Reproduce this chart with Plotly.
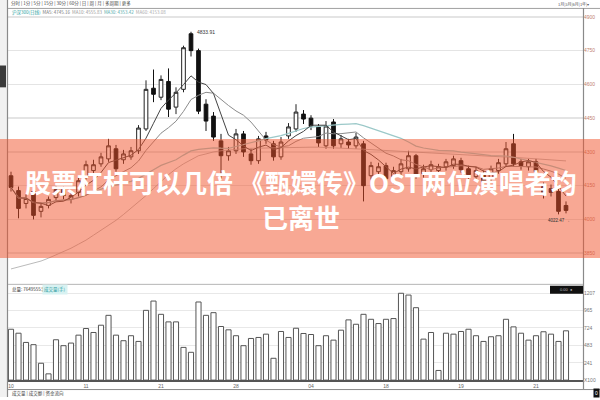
import plotly.graph_objects as go
import pandas as pd

# ---------------- data ----------------
opens = [4194, 4128, 4071, 4124, 4036, 4062, 4097, 4133, 4089, 4120,
         4190, 4217, 4247, 4269, 4314, 4265, 4278, 4305, 4402, 4583,
         4543, 4613, 4499, 4578, 4825, 4750, 4512, 4459, 4349, 4283,
         4305, 4380, 4291, 4261, 4371, 4336, 4278, 4371, 4402, 4468,
         4450, 4411, 4327, 4433, 4336, 4344, 4327, 4336, 4194, 4212,
         4239, 4190, 4212, 4225, 4283, 4203, 4221, 4217, 4234, 4239,
         4261, 4225, 4190, 4203, 4181, 4217, 4247, 4336, 4256, 4234,
         4256, 4146, 4137, 4124, 4062]
highs = [4212, 4146, 4111, 4150, 4075, 4102, 4150, 4146, 4120, 4190,
         4261, 4265, 4296, 4358, 4331, 4309, 4322, 4419, 4618, 4666,
         4640, 4671, 4587, 4772, 4833.91, 4759, 4534, 4477, 4380, 4322,
         4402, 4393, 4314, 4371, 4389, 4349, 4366, 4428, 4512, 4486,
         4463, 4424, 4437, 4446, 4375, 4358, 4384, 4349, 4256, 4252,
         4252, 4234, 4269, 4305, 4291, 4243, 4261, 4247, 4269, 4283,
         4274, 4239, 4234, 4217, 4239, 4269, 4344, 4380, 4269, 4269,
         4269, 4164, 4155, 4137, 4080]
lows = [4124, 4005, 4049, 4000, 4009, 4049, 4084, 4089, 4071, 4102,
        4177, 4203, 4234, 4256, 4212, 4247, 4265, 4291, 4393, 4521,
        4530, 4455, 4468, 4565, 4724, 4468, 4393, 4349, 4181, 4261,
        4291, 4278, 4243, 4247, 4336, 4261, 4265, 4358, 4389, 4424,
        4397, 4322, 4314, 4314, 4318, 4314, 4314, 4080, 4177, 4190,
        4164, 4159, 4190, 4212, 4181, 4186, 4203, 4203, 4217, 4225,
        4208, 4181, 4172, 4155, 4164, 4203, 4234, 4234, 4221, 4217,
        4199, 4093, 4102, 4022.47, 4027]
closes = [4142, 4049, 4093, 4018, 4058, 4089, 4133, 4106, 4106, 4172,
          4243, 4243, 4278, 4327, 4225, 4291, 4305, 4406, 4578, 4556,
          4622, 4490, 4565, 4763, 4750, 4481, 4437, 4366, 4283, 4305,
          4380, 4300, 4261, 4358, 4353, 4278, 4344, 4411, 4477, 4446,
          4415, 4340, 4415, 4327, 4358, 4331, 4366, 4150, 4239, 4234,
          4181, 4217, 4247, 4283, 4194, 4225, 4243, 4234, 4256, 4269,
          4221, 4199, 4217, 4168, 4225, 4252, 4314, 4247, 4239, 4256,
          4212, 4111, 4120, 4036, 4040]
volumes = [706, 651, 523, 492, 234, 87, 560, 478, 514, 624,
           716, 661, 762, 899, 624, 547, 616, 537, 968, 1097,
           913, 808, 808, 454, 386, 1084, 899, 936, 744, 698,
           616, 478, 578, 592, 638, 303, 675, 592, 720, 647,
           633, 478, 616, 555, 693, 836, 775, 913, 844, 785,
           844, 854, 1205, 1180, 1005, 569, 661, 134, 651, 638,
           675, 706, 616, 537, 602, 616, 844, 739, 651, 555,
           616, 671, 638, 537, 684]
ma60 = [3780, 3789, 3797, 3806, 3815, 3828, 3842, 3855, 3872, 3890,
        3908, 3930, 3952, 3974, 3996, 4022, 4049, 4075, 4106, 4137,
        4168, 4199, 4225, 4247, 4265, 4283, 4291, 4300, 4305, 4309,
        4312, 4314, 4316, 4317, 4318, 4318, 4320, 4321, 4322, 4322,
        4321, 4321, 4320, 4319, 4318, 4316, 4315, 4312, 4310, 4308,
        4306, 4304, 4303, 4301, 4299, 4296, 4294, 4293, 4291, 4289,
        4287, 4285, 4284, 4282, 4280, 4279, 4277, 4276, 4274, 4272,
        4270, 4268, 4266, 4263, 4260]
x_tick_pos = [0, 10, 20, 30, 40, 50, 60, 70]
x_tick_text = ["10", "11", "21", "28", "04", "18", "19", "21"]
price_ticks = [4900, 4750, 4600, 4450, 4300, 4150, 4000, 3850]
vol_ticks = [0, 241, 483, 724, 965, 1207]
vol_tick_text = ["X100", "241", "483", "724", "965", "1207"]
peak_label = "4833.91"
low_label = "4022.47"
title_line1 = "股票杠杆可以几倍 《甄嬛传》OST两位演唱者均"
title_line2 = "已离世"

idx = list(range(len(closes)))
cs = pd.Series(closes)
ma5 = cs.rolling(5, min_periods=1).mean()
ma10 = cs.rolling(10, min_periods=1).mean()
ma30 = cs.rolling(30, min_periods=1).mean()

# ---------------- helpers ----------------
W, H = 600, 400
def px(x):
    return x / W
def py(y):
    return 1 - y / H

NUM = "Liberation Sans"
CJK = "Noto Sans CJK SC"

fig = go.Figure()

fig.add_trace(go.Candlestick(
    x=idx, open=opens, high=highs, low=lows, close=closes,
    increasing=dict(line=dict(color="#222222", width=1), fillcolor="#ffffff"),
    decreasing=dict(line=dict(color="#111111", width=1), fillcolor="#111111"),
    whiskerwidth=0, xaxis="x", yaxis="y", showlegend=False, hoverinfo="skip"))

for series, col, wd in [(ma60, "#a8a8a8", 0.8), (ma30, "#9cc9c9", 1.2),
                        (ma10, "#8c8c8c", 1.0), (ma5, "#444444", 1.0)]:
    fig.add_trace(go.Scatter(x=idx, y=list(series), mode="lines",
                             line=dict(color=col, width=wd),
                             xaxis="x", yaxis="y", showlegend=False,
                             hoverinfo="skip"))

fig.add_trace(go.Bar(x=idx, y=volumes, width=0.68,
                     marker=dict(color="#ffffff", line=dict(color="#555555", width=1)),
                     xaxis="x2", yaxis="y2", showlegend=False, hoverinfo="skip"))

x_range = [-0.4, -0.4 + 575 / 7.5]
p_lo = 4900 - (283 - 17) * 4.41
p_hi = 4900 + (17 - 8) * 4.41

fig.update_layout(
    width=W, height=H,
    margin=dict(l=0, r=0, t=0, b=0),
    paper_bgcolor="#ffffff", plot_bgcolor="#ffffff",
    bargap=0.3,
    xaxis=dict(domain=[px(8), px(583)], range=x_range, showgrid=False,
               showticklabels=False, zeroline=False, rangeslider=dict(visible=False),
               fixedrange=True),
    yaxis=dict(domain=[py(283), py(8)], range=[p_lo, p_hi], side="right",
               tickvals=price_ticks, ticktext=[str(v) for v in price_ticks],
               tickfont=dict(size=5, color="#c08070", family=NUM),
               showgrid=True, gridcolor="#e4e4e4", gridwidth=1.5, zeroline=False,
               ticks="", showline=False),
    xaxis2=dict(domain=[px(8), px(583)], range=x_range, anchor="y2",
                tickvals=x_tick_pos, ticktext=x_tick_text, ticks="",
                tickfont=dict(size=5, color="#666666", family=NUM),
                showgrid=False, zeroline=False, showline=True,
                linecolor="#555555", linewidth=1.5),
    yaxis2=dict(domain=[py(383), py(290)], range=[0, 93 * 13.77], side="right",
                anchor="x2", tickvals=vol_ticks, ticktext=vol_tick_text,
                tickfont=dict(size=5, color="#777777", family=NUM),
                showgrid=True, gridcolor="#e8e8e8", gridwidth=1, zeroline=False,
                ticks=""),
)

shapes = []
def line(x0, y0, x1, y1, color="#999999", width=1):
    shapes.append(dict(type="line", xref="paper", yref="paper",
                       x0=px(x0), y0=py(y0), x1=px(x1), y1=py(y1),
                       line=dict(color=color, width=width), layer="above"))
def rect(x0, y0, x1, y1, fill, lc=None, lw=0, layer="above"):
    shapes.append(dict(type="rect", xref="paper", yref="paper",
                       x0=px(x0), y0=py(y0), x1=px(x1), y1=py(y1),
                       fillcolor=fill, line=dict(color=lc or fill, width=lw),
                       layer=layer))

# left toolbar strip
rect(0, 0, 7, 400, "#f1f1f1", layer="below")
rect(0, 66, 6, 88, "#3a3a3a")
line(7.5, 0, 7.5, 400, "#8a8a8a", 1.2)
# frame
line(8, 8.5, 600, 8.5, "#a0a0a0", 1)
line(583.5, 8, 583.5, 392, "#8a8a8a", 1.2)
line(8, 286.5, 583, 286.5, "#b5b5b5", 1)
line(8, 392.5, 600, 392.5, "#8a8a8a", 1)
# black box in volume pane
rect(550, 288, 583, 296, "#111111")
fig.update_layout(shapes=shapes)

ann = []
def text(x, y, s, size=5, color="#333333", xanchor="left", yanchor="middle",
         family=NUM, **kw):
    ann.append(dict(xref="paper", yref="paper", x=px(x), y=py(y), text=s,
                    showarrow=False, xanchor=xanchor, yanchor=yanchor,
                    font=dict(size=size, color=color, family=family), **kw))

text(9, 4, "分时 | 1分 | 5分 | 15分 | 30分 | 60分 | 日 | 周 | 月 | 多周期 | 更多",
     size=4.5, color="#444444", family=CJK)
text(556, 4, "1月|3月|6月|1年|▾", size=4, color="#555555", family=CJK)
text(10, 13,
     "<span style='color:#2aa0a0'>沪深300(日线)</span>  "
     "<span style='color:#777'>MA5: 4745.16</span>  "
     "<span style='color:#999'>MA10: 4555.83</span>  "
     "<span style='color:#5aa'>MA30: 4353.42</span>  "
     "<span style='color:#aaa'>MA60: 4153.08</span>",
     size=4.5, family=CJK)
text(10, 292, "总量: 7649555手", size=4.5, color="#333333", family=CJK)
text(42, 292, "成交量(手)", size=4.5, color="#2a9aa0", family=CJK,
     bgcolor="#d8f2f2")
text(566, 292, "0.00  ●", size=4, color="#bbbbbb", xanchor="center")
text(10, 396, "成交量 | 成交额 | 资金流向", size=4.5, color="#444444", family=CJK)
text(596, 396, "0", size=5, color="#ffffff", xanchor="center", bgcolor="#111111")

ann.append(dict(xref="x", yref="y", x=24, y=highs[24], text=peak_label,
                showarrow=False, xanchor="left", xshift=4,
                font=dict(size=5, color="#333333", family=NUM)))
ann.append(dict(xref="x", yref="y", x=73, y=lows[73], text=low_label + " →",
                showarrow=False, xanchor="center", yanchor="top", yshift=-2,
                font=dict(size=4.5, color="#333333", family=NUM)))

fig.update_layout(annotations=ann)

# banner overlay
fig.add_shape(type="rect", xref="paper", yref="paper", x0=0, x1=1,
              y0=py(260), y1=py(140), fillcolor="rgba(242,82,42,0.5)",
              line=dict(width=0), layer="above")
fig.add_annotation(xref="paper", yref="paper", x=px(301), y=py(183),
                   text="<b>" + title_line1 + "</b>", showarrow=False,
                   xanchor="center", yanchor="middle",
                   font=dict(size=26, color="#ffffff", family=CJK))
fig.add_annotation(xref="paper", yref="paper", x=px(301), y=py(218),
                   text="<b>" + title_line2 + "</b>", showarrow=False,
                   xanchor="center", yanchor="middle",
                   font=dict(size=26, color="#ffffff", family=CJK))

fig.write_html("out.html",
               config={"displayModeBar": False, "staticPlot": True},
               post_script="document.body.style.margin='0';"
                           "document.body.style.overflow='hidden';")
